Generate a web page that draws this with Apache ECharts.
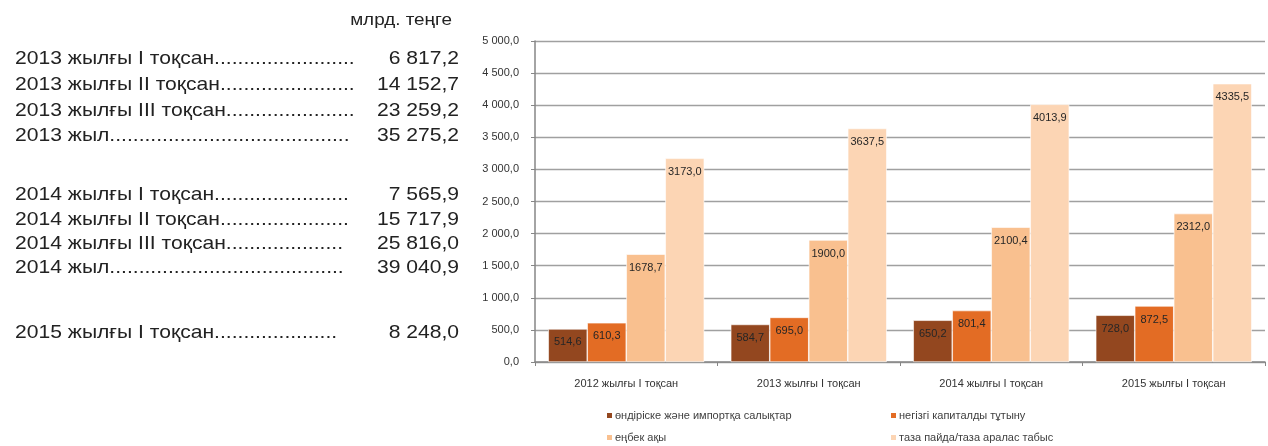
<!DOCTYPE html>
<html>
<head>
<meta charset="utf-8">
<script src="https://cdn.jsdelivr.net/npm/echarts@6/dist/echarts.min.js"></script>
<style>
html,body{margin:0;padding:0;background:#fff;}
#chart{width:1268px;height:446px;}
</style>
</head>
<body>
<div id="chart"></div>
<script>
// ---- data ----
const categories = ['2012 жылғы I тоқсан', '2013 жылғы I тоқсан', '2014 жылғы I тоқсан', '2015 жылғы I тоқсан'];
const seriesNames = ['өндіріске және импортқа салықтар', 'негізгі капиталды тұтыну', 'еңбек ақы', 'таза пайда/таза аралас табыс'];
const taxes = [514.6, 584.7, 650.2, 728.0];
const capitalConsumption = [610.3, 695.0, 801.4, 872.5];
const wages = [1678.7, 1900.0, 2100.4, 2312.0];
const netProfit = [3173.0, 3637.5, 4013.9, 4335.5];
const yMin = 0, yMax = 5000, yInterval = 500;
const unitLabel = 'млрд. теңге';
const summaryLabels = ['2013 жылғы I тоқсан', '2013 жылғы II тоқсан', '2013 жылғы III тоқсан', '2013 жыл',
  '2014 жылғы I тоқсан', '2014 жылғы II тоқсан', '2014 жылғы III тоқсан', '2014 жыл', '2015 жылғы I тоқсан'];
const summaryValues = [6817.2, 14152.7, 23259.2, 35275.2, 7565.9, 15717.9, 25816.0, 39040.9, 8248.0];

// ---- layout / style ----
const colors = ['#93471F', '#E36C24', '#F9C08F', '#FCD5B4'];
const rowY = [59, 85, 111, 136, 195, 220, 244, 268, 333];
const dotEnd = [360, 357, 357, 352, 350, 350, 345, 345, 340];
const leftFont = '"Liberation Sans", Arial, sans-serif';
const chartFont = 'Arial, "Liberation Sans", sans-serif';
const sx = 1.11;

function fmtGrouped(v) {
  const parts = v.toFixed(1).split('.');
  parts[0] = parts[0].replace(/\B(?=(\d{3})+(?!\d))/g, ' ');
  return parts.join(',');
}
function fmtPlain(v) { return v.toFixed(1).replace('.', ','); }

const cv = document.createElement('canvas').getContext('2d');
cv.font = '19px ' + leftFont;
const dotW = cv.measureText('.').width * sx;

const graphics = [{
  type: 'text', x: 452, y: 20, scaleX: sx,
  style: { text: unitLabel, font: '17px ' + leftFont, fill: '#222', align: 'right', verticalAlign: 'middle' }
}];
summaryLabels.forEach((lab, i) => {
  const lw = cv.measureText(lab).width * sx;
  const n = Math.max(0, Math.floor((dotEnd[i] - 15 - lw) / dotW));
  graphics.push({
    type: 'text', x: 15, y: rowY[i], scaleX: sx,
    style: { text: lab + '.'.repeat(n), font: '19px ' + leftFont, fill: '#222', align: 'left', verticalAlign: 'middle' }
  });
  graphics.push({
    type: 'text', x: 459, y: rowY[i], scaleX: sx,
    style: { text: fmtGrouped(summaryValues[i]), font: '19px ' + leftFont, fill: '#222', align: 'right', verticalAlign: 'middle' }
  });
});

const legendCommon = {
  orient: 'vertical', top: 410, height: 44, itemWidth: 7, itemHeight: 7, itemGap: 11,
  icon: 'rect', selectedMode: false, padding: 0,
  textStyle: { fontSize: 11, color: '#404040', fontFamily: chartFont, padding: [0, 0, 0, -3] }
};

const seriesData = [taxes, capitalConsumption, wages, netProfit];
const chart = echarts.init(document.getElementById('chart'));
chart.setOption({
  animation: false,
  color: colors,
  graphic: graphics,
  grid: { left: 535, right: 3, top: 41, bottom: 84, containLabel: false },
  legend: [
    Object.assign({ data: [seriesNames[0], seriesNames[2]], left: 605 }, legendCommon),
    Object.assign({ data: [seriesNames[1], seriesNames[3]], left: 889 }, legendCommon)
  ],
  xAxis: {
    type: 'category', data: categories,
    axisLine: { lineStyle: { color: '#868686', width: 1.5 } },
    axisTick: { show: true, length: 4, lineStyle: { color: '#868686' } },
    axisLabel: { fontSize: 11, color: '#333', margin: 16, fontFamily: chartFont }
  },
  yAxis: {
    type: 'value', min: yMin, max: yMax, interval: yInterval,
    axisLine: { show: true, lineStyle: { color: '#868686', width: 1.5 } },
    axisTick: { show: true, length: 4, lineStyle: { color: '#868686' } },
    splitLine: { lineStyle: { color: '#a0a0a0', width: 1.3 } },
    axisLabel: { fontSize: 11, color: '#333', margin: 16, formatter: fmtGrouped, fontFamily: chartFont }
  },
  series: seriesNames.map((name, i) => ({
    name, type: 'bar', data: seriesData[i],
    barGap: 0, barCategoryGap: '14.5%',
    itemStyle: { color: colors[i], borderColor: '#fff', borderWidth: 0.6 },
    label: { show: true, position: 'insideTop', distance: 8, fontSize: 11, color: '#262626',
      fontFamily: chartFont, formatter: p => fmtPlain(p.value) }
  }))
});
</script>
</body>
</html>
